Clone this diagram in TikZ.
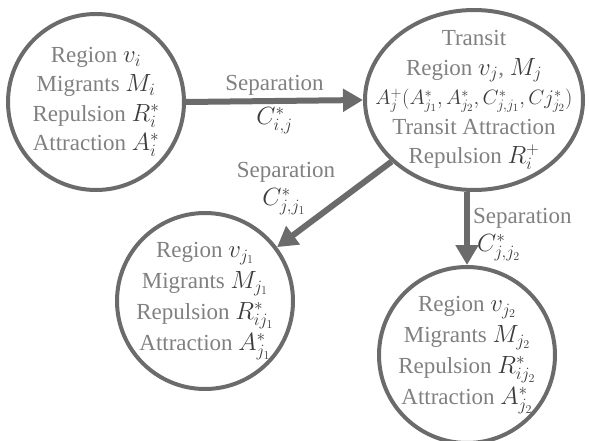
\documentclass[tikz,border=0pt]{standalone}
\usepackage{fontspec}
\setmainfont{Liberation Serif}
\usetikzlibrary{arrows.meta,calc,shapes.geometric}
\definecolor{regionline}{HTML}{6B6B6B}
\definecolor{regiontext}{HTML}{808080}
\definecolor{regionmath}{HTML}{3C3C3C}
\newcommand{\mth}[1]{\textcolor{regionmath}{$#1$}}

\begin{document}
\begin{tikzpicture}[
  x=1pt, y=-1pt,
  font=\rmfamily\fontsize{23}{29.5}\selectfont,
  region/.style={
    circle,
    draw=regionline,
    line width=4pt,
    text=regiontext,
    align=center,
    minimum size=176pt,
    inner sep=-10pt
  },
  transit/.style={
    ellipse,
    draw=regionline,
    line width=4pt,
    text=regiontext,
    align=center,
    minimum width=218pt,
    minimum height=180pt,
    inner xsep=-45pt,
    inner ysep=-12pt
  },
  sepflow/.style={
    draw=regionline,
    line width=6pt,
    -{Triangle[length=20pt,width=22pt]}
  },
  seplabel/.style={
    text=regiontext,
    inner sep=1pt
  }
]
\useasboundingbox (0,0) rectangle (589,441);

% regions
\node[region] (vi) at (96,102)
  {Region \mth{v_i}\\Migrants \mth{M_i}\\Repulsion \mth{R_i^*}\\Attraction \mth{A_i^*}};
\node[transit] (vj) at (474,100)
  {Transit\\Region \mth{v_j}, \mth{M_j}\\
   {\fontsize{21.5}{28}\selectfont\mth{A_j^+(A^*_{j_1},A^*_{j_2},C^*_{j,j_1},Cj^*_{j_2})}}\\
   Transit Attraction\\Repulsion \mth{R_i^+}};
\node[region,font=\rmfamily\fontsize{23}{31}\selectfont] (vj1) at (205,301)
  {Region \mth{v_{j_1}}\\Migrants \mth{M_{j_1}}\\Repulsion \mth{R^*_{ij_1}}\\Attraction \mth{A^*_{j_1}}};
\node[region,font=\rmfamily\fontsize{23}{31}\selectfont] (vj2) at (467,355)
  {Region \mth{v_{j_2}}\\Migrants \mth{M_{j_2}}\\Repulsion \mth{R^*_{ij_2}}\\Attraction \mth{A^*_{j_2}}};

% separations
\draw[sepflow] (vi.east) -- (vj.west);
\node[seplabel] at ($(vi.east)!0.5!(vj.west)+(0,-16)$) {Separation};
\node[seplabel] at ($(vi.east)!0.5!(vj.west)+(0,20)$) {\mth{C^*_{i,j}}};

\draw[sepflow] (vj) -- (vj1);
\node[seplabel] at (286,172) {Separation};
\node[seplabel] at (284,202) {\mth{C^*_{j,j_1}}};

\draw[sepflow] (vj2.north |- vj.south) -- (vj2.north);
\node[seplabel,anchor=west] at (472,218) {Separation};
\node[seplabel,anchor=west] at (476,248) {\mth{C^*_{j,j_2}}};

\end{tikzpicture}
\end{document}
